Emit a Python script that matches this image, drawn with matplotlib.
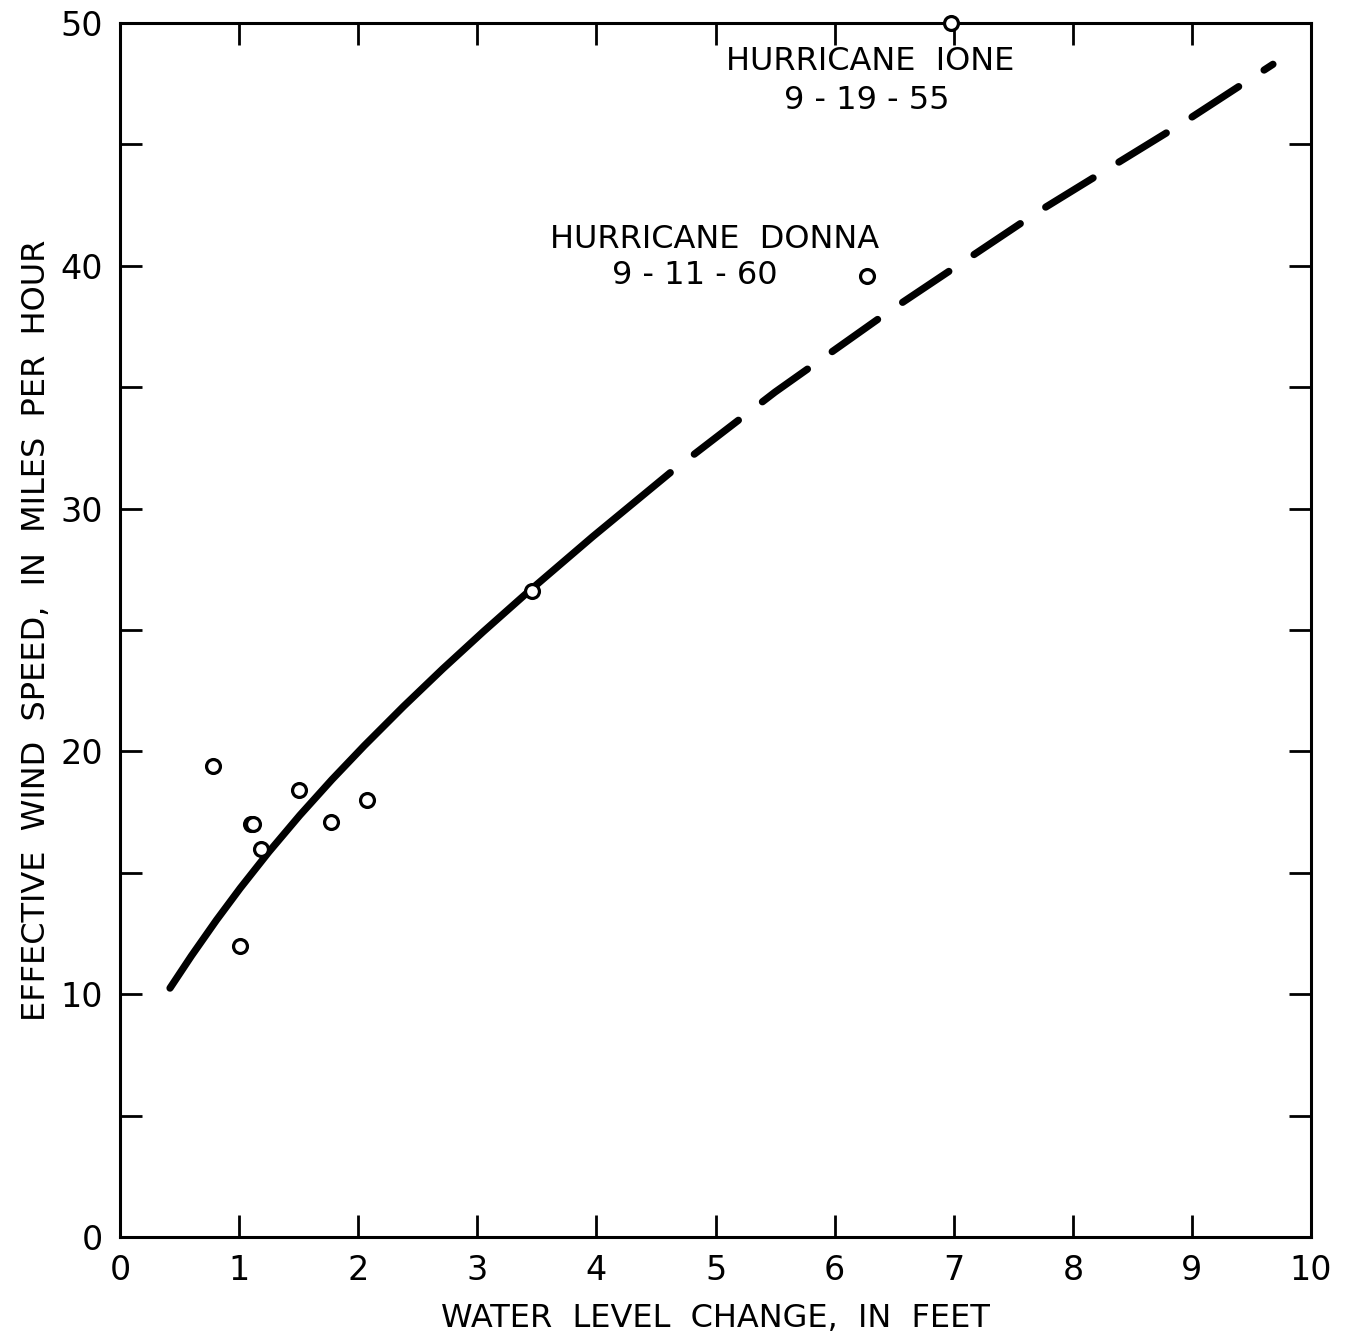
import matplotlib
matplotlib.use('Agg')
import matplotlib.pyplot as plt
from matplotlib.ticker import MultipleLocator

plt.rcParams['font.family'] = ['DejaVu Sans']

# observed points (water level change ft, effective wind speed mph)
obs_x = [0.78, 1.01, 1.10, 1.12, 1.18, 1.50, 1.77, 2.07, 3.46]
obs_y = [19.4, 12.0, 17.0, 17.0, 16.0, 18.4, 17.1, 18.0, 26.6]

# hurricanes
hur_x = [6.27, 6.98]
hur_y = [39.6, 50.0]

# fitted curve, solid part and dashed extrapolation
fit_x = [0.42, 0.60, 0.81, 1.01, 1.25, 1.51, 1.78, 2.05, 2.38, 2.71, 3.05, 3.42, 3.97, 4.62]
fit_y = [10.25, 11.58, 13.05, 14.37, 15.86, 17.37, 18.84, 20.23, 21.85, 23.4, 24.93, 26.54, 28.85, 31.48]
ext_x = [4.62, 5.50, 6.45, 7.70, 8.96, 9.68]
ext_y = [31.48, 34.8, 38.1, 42.2, 46.0, 48.3]

fig = plt.figure(figsize=(13.48, 13.38), dpi=100)
ax = fig.add_axes([0.089, 0.0755, 0.8836, 0.9073])

lw = 5.2
ax.plot(fit_x, fit_y, '-', color='black', lw=lw, solid_capstyle='round',
        solid_joinstyle='round')
ax.plot(ext_x, ext_y, color='black', lw=lw, dash_capstyle='round',
        linestyle=(7.7, (7.7, 4.2)))

ax.plot(obs_x, obs_y, 'o', mfc='white', mec='black', ms=10, mew=2.3, zorder=5)
ax.plot(hur_x, hur_y, 'o', mfc='white', mec='black', ms=10, mew=2.3, zorder=5,
        clip_on=False)

ax.text(6.30, 48.4, 'HURRICANE  IONE', ha='center', va='center', fontsize=23)
ax.text(6.27, 46.8, '9 - 19 - 55', ha='center', va='center', fontsize=23)
ax.text(4.99, 41.1, 'HURRICANE  DONNA', ha='center', va='center', fontsize=23)
ax.text(4.83, 39.6, '9 - 11 - 60', ha='center', va='center', fontsize=23)

ax.set_xlim(0, 10)
ax.set_ylim(0, 50)
ax.xaxis.set_major_locator(MultipleLocator(1))
ax.yaxis.set_major_locator(MultipleLocator(10))
ax.yaxis.set_minor_locator(MultipleLocator(5))
ax.tick_params(which='both', direction='in', top=True, right=True,
               length=16, width=2, labelsize=24)
ax.tick_params(axis='x', pad=12)
ax.tick_params(axis='y', pad=12)
for s in ax.spines.values():
    s.set_linewidth(2.2)

ax.set_xlabel('WATER  LEVEL  CHANGE,  IN  FEET', fontsize=23, labelpad=12)
ax.set_ylabel('EFFECTIVE  WIND  SPEED,  IN  MILES  PER  HOUR', fontsize=23,
              labelpad=6)

fig.savefig('out.png', dpi=100)
